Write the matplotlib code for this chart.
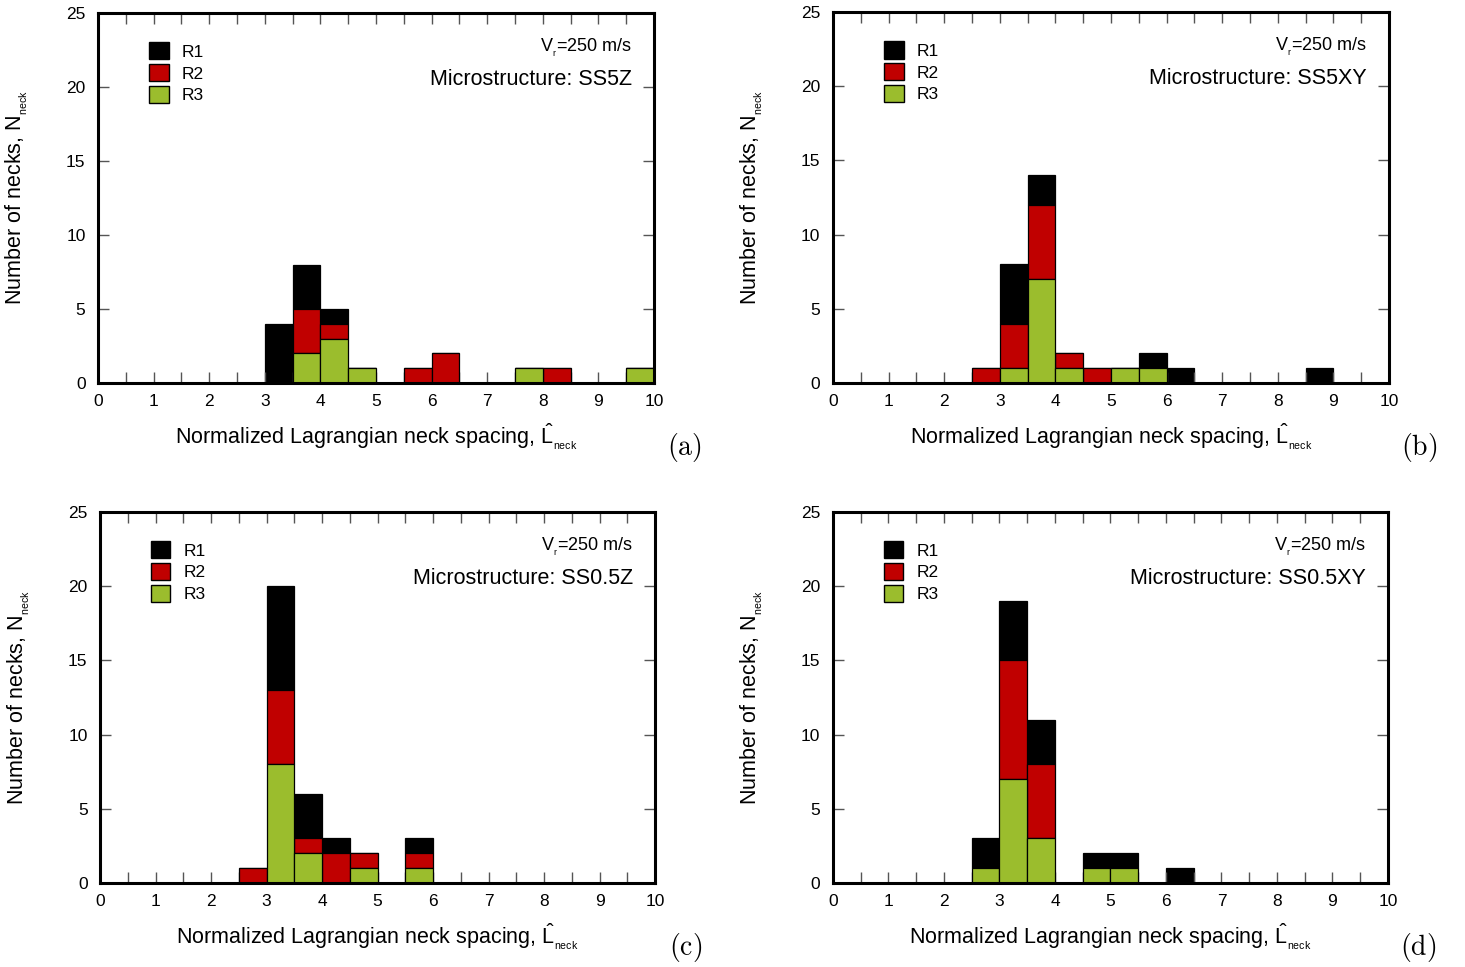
import numpy as np
import matplotlib
matplotlib.use('Agg')
import matplotlib.pyplot as plt
from matplotlib.patches import Patch
from matplotlib.ticker import MultipleLocator

plt.rcParams['font.family'] = ['Liberation Sans', 'DejaVu Sans']
plt.rcParams['mathtext.fontset'] = 'custom'
plt.rcParams['mathtext.rm'] = 'Liberation Sans'
plt.rcParams['mathtext.it'] = 'Liberation Sans'

# bins of width 0.5 on [0, 10]
bin_edges = np.arange(0, 10.0, 0.5)

# neck counts per bin for each run (R1, R2, R3), one set per microstructure
ss5z_r1 = [0, 0, 0, 0, 0, 0, 4, 3, 1, 0, 0, 0, 0, 0, 0, 0, 0, 0, 0, 0]
ss5z_r2 = [0, 0, 0, 0, 0, 0, 0, 3, 1, 0, 0, 1, 2, 0, 0, 0, 1, 0, 0, 0]
ss5z_r3 = [0, 0, 0, 0, 0, 0, 0, 2, 3, 1, 0, 0, 0, 0, 0, 1, 0, 0, 0, 1]

ss5xy_r1 = [0, 0, 0, 0, 0, 0, 4, 2, 0, 0, 0, 1, 1, 0, 0, 0, 0, 1, 0, 0]
ss5xy_r2 = [0, 0, 0, 0, 0, 1, 3, 5, 1, 1, 0, 0, 0, 0, 0, 0, 0, 0, 0, 0]
ss5xy_r3 = [0, 0, 0, 0, 0, 0, 1, 7, 1, 0, 1, 1, 0, 0, 0, 0, 0, 0, 0, 0]

ss05z_r1 = [0, 0, 0, 0, 0, 0, 7, 3, 1, 0, 0, 1, 0, 0, 0, 0, 0, 0, 0, 0]
ss05z_r2 = [0, 0, 0, 0, 0, 1, 5, 1, 2, 1, 0, 1, 0, 0, 0, 0, 0, 0, 0, 0]
ss05z_r3 = [0, 0, 0, 0, 0, 0, 8, 2, 0, 1, 0, 1, 0, 0, 0, 0, 0, 0, 0, 0]

ss05xy_r1 = [0, 0, 0, 0, 0, 2, 4, 3, 0, 1, 1, 0, 1, 0, 0, 0, 0, 0, 0, 0]
ss05xy_r2 = [0, 0, 0, 0, 0, 0, 8, 5, 0, 0, 0, 0, 0, 0, 0, 0, 0, 0, 0, 0]
ss05xy_r3 = [0, 0, 0, 0, 0, 1, 7, 3, 0, 1, 1, 0, 0, 0, 0, 0, 0, 0, 0, 0]

panels = [
    ('SS5Z', 'a', ss5z_r1, ss5z_r2, ss5z_r3),
    ('SS5XY', 'b', ss5xy_r1, ss5xy_r2, ss5xy_r3),
    ('SS0.5Z', 'c', ss05z_r1, ss05z_r2, ss05z_r3),
    ('SS0.5XY', 'd', ss05xy_r1, ss05xy_r2, ss05xy_r3),
]
run_names = ['R1', 'R2', 'R3']
run_colors = ['#000000', '#c00000', '#9bbd2d']
velocity = 250

# axes boxes [left, bottom, width, height] in figure fractions
boxes = [
    [0.0669, 0.6039, 0.3795, 0.3826],
    [0.5686, 0.6039, 0.3795, 0.3836],
    [0.0683, 0.0869, 0.3788, 0.3837],
    [0.5686, 0.0869, 0.3788, 0.3837],
]

fig = plt.figure(figsize=(14.65, 9.67), dpi=100)

for box, (micro, tag, r1, r2, r3) in zip(boxes, panels):
    ax = fig.add_axes(box)
    r1 = np.array(r1); r2 = np.array(r2); r3 = np.array(r3)
    # stacked: R3 at the bottom, then R2, then R1
    ax.bar(bin_edges, r3, width=0.5, align='edge', color=run_colors[2],
           edgecolor='black', linewidth=0.9, zorder=3)
    ax.bar(bin_edges, r2, width=0.5, align='edge', bottom=r3, color=run_colors[1],
           edgecolor='black', linewidth=0.9, zorder=2)
    ax.bar(bin_edges, r1, width=0.5, align='edge', bottom=r3 + r2, color=run_colors[0],
           edgecolor='black', linewidth=0.9, zorder=1)

    ax.set_xlim(0, 10)
    ax.set_ylim(0, 25)
    ax.xaxis.set_major_locator(MultipleLocator(1))
    ax.xaxis.set_minor_locator(MultipleLocator(0.5))
    ax.yaxis.set_major_locator(MultipleLocator(5))
    ax.tick_params(axis='both', which='both', direction='in', top=True, right=True,
                   length=8, width=1.0, color='#555555', labelsize=12.5)
    ax.tick_params(axis='x', which='major', pad=8)
    ax.tick_params(axis='y', which='major', pad=9)
    for sp in ax.spines.values():
        sp.set_linewidth(2.2)
        sp.set_zorder(5)

    # small, low subscripts (double subscript level)
    ax.set_xlabel(r'Normalized Lagrangian neck spacing, $\hat{\mathrm{L}}_{{}_{\mathrm{neck}}}$',
                  fontsize=15.5, labelpad=9)
    ax.set_ylabel(r'Number of necks, $\mathrm{N}_{{}_{\mathrm{neck}}}$', fontsize=15.5, labelpad=26)

    handles = [Patch(facecolor=c, edgecolor='black', linewidth=1.0) for c in run_colors]
    ax.legend(handles, run_names, loc='upper left', bbox_to_anchor=(0.08, 0.94),
              frameon=False, fontsize=12.5, handlelength=1.1, handleheight=1.15,
              handletextpad=0.75, labelspacing=0.25, borderaxespad=0)

    ax.text(0.96, 0.905, r'$\mathrm{V}_{{}_{\mathrm{r}}}$=%d m/s' % velocity, transform=ax.transAxes,
            ha='right', va='center', fontsize=13)
    ax.text(0.96, 0.82, 'Microstructure: ' + micro, transform=ax.transAxes,
            ha='right', va='center', fontsize=15.5)

    ax.text(1.055, -0.175, r'$\mathrm{(%s)}$' % tag, transform=ax.transAxes, ha='center',
            va='center', fontsize=20, math_fontfamily='cm')

fig.savefig('out.png', dpi=100)
